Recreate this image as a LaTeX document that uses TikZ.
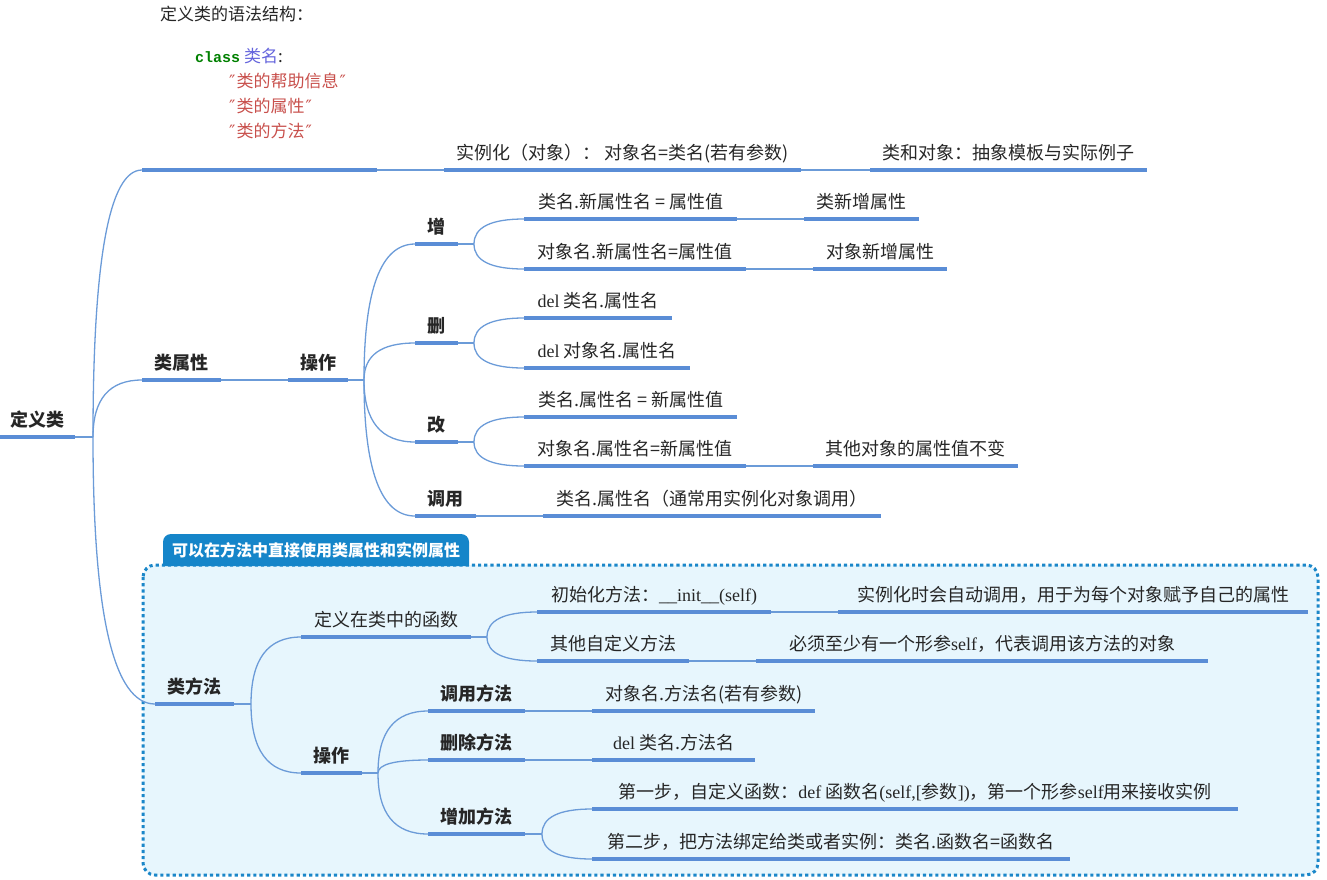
\documentclass[tikz,border=0pt]{standalone}
\usepackage{fontspec}
\setmainfont{Noto Sans CJK SC}
\newfontfamily\tms{Liberation Serif}
\newfontfamily\mono{Liberation Mono}
\newfontfamily\dvs{DejaVu Sans}
\usetikzlibrary{calc}
\definecolor{textcol}{HTML}{262626}
\definecolor{thickc}{HTML}{5A8DD6}
\definecolor{thinc}{HTML}{6B9BD8}
\definecolor{boxfill}{HTML}{E7F6FD}
\definecolor{boxborder}{HTML}{1B87C9}
\definecolor{tabfill}{HTML}{1585C9}
\definecolor{codegreen}{HTML}{008000}
\definecolor{codeblue}{HTML}{6464DC}
\definecolor{codered}{HTML}{C8504C}
\newcommand\mmul[1]{\draw[uline] (#1.south west) -- (#1.south east);}
\newcommand\mmcurve[2]{\draw[conn] (#1) .. controls ($(#1)!0.667!(#1 |- #2.south west)$) and ($(#2.south west)!0.667!(#1 |- #2.south west)$) .. (#2.south west);}
\newcommand\dq{{\dvs\kern1pt″\kern1pt}}
\tikzset{
  topic/.style={inner xsep=0pt, inner ysep=0pt, text depth=10pt, anchor=south west,
    font=\fontsize{18}{22}\selectfont, text=textcol},
  boldtopic/.style={topic, font=\fontsize{18}{22}\selectfont\bfseries},
  uline/.style={draw=thickc, line width=4pt},
  conn/.style={draw=thinc, line width=1.3pt},
  tablabel/.style={inner sep=0pt, text=white, font=\fontsize{16}{20}\selectfont\bfseries},
}
\begin{document}
\begin{tikzpicture}[x=1pt,y=-1pt]
\useasboundingbox (0,0) rectangle (1327,879);
% method box
\draw[boxborder, fill=boxfill, rounded corners=12, line width=3pt, dash pattern=on 3.2pt off 3pt] (143,565) rectangle (1318,875);
\fill[tabfill] (163,566) [rounded corners=8] -- (163,534) -- (469,534) [sharp corners] -- (469,566) -- cycle;
\node[tablabel] (tab) at (316,550) {可以在方法中直接使用类属性和实例属性};

% nodes
\node[boldtopic, minimum width=75] (root) at (0,437) {定义类};
\node[topic, minimum width=235, text depth=32pt] (code) at (142,170) {\fontsize{17}{25}\selectfont\begin{tabular}[b]{@{}p{199pt}@{}}
定义类的语法结构：\\[17pt]
\hspace*{35pt}{\mono\bfseries\fontsize{15}{25}\selectfont\color{codegreen}class} {\color{codeblue}类名}:\\
\hspace*{68pt}{\color{codered}\dq 类的帮助信息\dq}\\
\hspace*{68pt}{\color{codered}\dq 类的属性\dq}\\
\hspace*{68pt}{\color{codered}\dq 类的方法\dq}
\end{tabular}};
\node[topic, minimum width=357] (inst) at (444,170) {实例化（对象）： 对象名=类名(若有参数)};
\node[topic, minimum width=277] (lei) at (870,170) {类和对象：抽象模板与实际例子};

\node[boldtopic, minimum width=79] (attr) at (142,380) {类属性};
\node[boldtopic, minimum width=60] (op1) at (288,380) {操作};

\node[boldtopic, minimum width=43] (zeng) at (415,244) {增};
\node[topic, minimum width=213] (z1) at (524,219) {类名.新属性名 = 属性值};
\node[topic, minimum width=115] (z1b) at (804,219) {类新增属性};
\node[topic, minimum width=222] (z2) at (524,269) {对象名.新属性名=属性值};
\node[topic, minimum width=134] (z2b) at (813,269) {对象新增属性};

\node[boldtopic, minimum width=43] (shan) at (415,343) {删};
\node[topic, minimum width=148] (s1) at (524,318) {{\tms del} 类名.属性名};
\node[topic, minimum width=166] (s2) at (524,368) {{\tms del} 对象名.属性名};

\node[boldtopic, minimum width=43] (gai) at (415,442) {改};
\node[topic, minimum width=213] (g1) at (524,417) {类名.属性名 = 新属性值};
\node[topic, minimum width=222] (g2) at (524,466) {对象名.属性名=新属性值};
\node[topic, minimum width=205] (g2b) at (813,466) {其他对象的属性值不变};

\node[boldtopic, minimum width=61] (diao) at (415,516) {调用};
\node[topic, minimum width=338] (d1) at (543,516) {类名.属性名（通常用实例化对象调用）};

\node[boldtopic, minimum width=79] (meth) at (155,704) {类方法};
\node[topic, minimum width=170] (def) at (301,637) {定义在类中的函数};
\node[topic, minimum width=234] (init) at (537,612) {初始化方法：{\tms\_\_init\_\_(self)}};
\node[topic, minimum width=470] (initb) at (838,612) {实例化时会自动调用，用于为每个对象赋予自己的属性};
\node[topic, minimum width=152] (other) at (537,661) {其他自定义方法};
\node[topic, minimum width=452] (otherb) at (756,661) {必须至少有一个形参{\tms self}，代表调用该方法的对象};

\node[boldtopic, minimum width=61] (op2) at (301,773) {操作};
\node[boldtopic, minimum width=97] (call) at (428,711) {调用方法};
\node[topic, minimum width=223] (callb) at (592,711) {对象名.方法名(若有参数)};
\node[boldtopic, minimum width=97] (del) at (428,760) {删除方法};
\node[topic, minimum width=163] (delb) at (592,760) {{\tms del} 类名.方法名};
\node[boldtopic, minimum width=97] (add) at (428,834) {增加方法};
\node[topic, minimum width=646] (a1) at (592,809) {第一步，自定义函数：{\tms def} 函数名{\tms (self,[}参数{\tms ])}，第一个形参{\tms self}用来接收实例};
\node[topic, minimum width=478] (a2) at (592,859) {第二步，把方法绑定给类或者实例：类名.函数名=函数名};

% fork points
\coordinate (f0) at (93,437);
\coordinate (f1) at (364,380);
\coordinate (fz) at (474,244);
\coordinate (fs) at (474,343);
\coordinate (fg) at (474,442);
\coordinate (fm) at (251,704);
\coordinate (fd) at (487,637);
\coordinate (fo) at (378,773);
\coordinate (fa) at (542,834);

% connectors
\draw[conn] (root.south east) -- (f0);
\mmcurve{f0}{code}
\mmcurve{f0}{attr}
\mmcurve{f0}{meth}
\draw[conn] (code.south east) -- (inst.south west);
\draw[conn] (inst.south east) -- (lei.south west);
\draw[conn] (attr.south east) -- (op1.south west);
\draw[conn] (op1.south east) -- (f1);
\mmcurve{f1}{zeng}
\mmcurve{f1}{shan}
\mmcurve{f1}{gai}
\mmcurve{f1}{diao}
\draw[conn] (zeng.south east) -- (fz);
\mmcurve{fz}{z1}
\mmcurve{fz}{z2}
\draw[conn] (z1.south east) -- (z1b.south west);
\draw[conn] (z2.south east) -- (z2b.south west);
\draw[conn] (shan.south east) -- (fs);
\mmcurve{fs}{s1}
\mmcurve{fs}{s2}
\draw[conn] (gai.south east) -- (fg);
\mmcurve{fg}{g1}
\mmcurve{fg}{g2}
\draw[conn] (g2.south east) -- (g2b.south west);
\draw[conn] (diao.south east) -- (d1.south west);
\draw[conn] (meth.south east) -- (fm);
\mmcurve{fm}{def}
\mmcurve{fm}{op2}
\draw[conn] (def.south east) -- (fd);
\mmcurve{fd}{init}
\mmcurve{fd}{other}
\draw[conn] (init.south east) -- (initb.south west);
\draw[conn] (other.south east) -- (otherb.south west);
\draw[conn] (op2.south east) -- (fo);
\mmcurve{fo}{call}
\mmcurve{fo}{del}
\mmcurve{fo}{add}
\draw[conn] (call.south east) -- (callb.south west);
\draw[conn] (del.south east) -- (delb.south west);
\draw[conn] (add.south east) -- (fa);
\mmcurve{fa}{a1}
\mmcurve{fa}{a2}

% underlines
\foreach \n in {root,code,inst,lei,attr,op1,zeng,z1,z1b,z2,z2b,shan,s1,s2,gai,g1,g2,g2b,diao,d1,meth,def,init,initb,other,otherb,op2,call,callb,del,delb,add,a1,a2}{\mmul{\n}}
\end{tikzpicture}
\end{document}
